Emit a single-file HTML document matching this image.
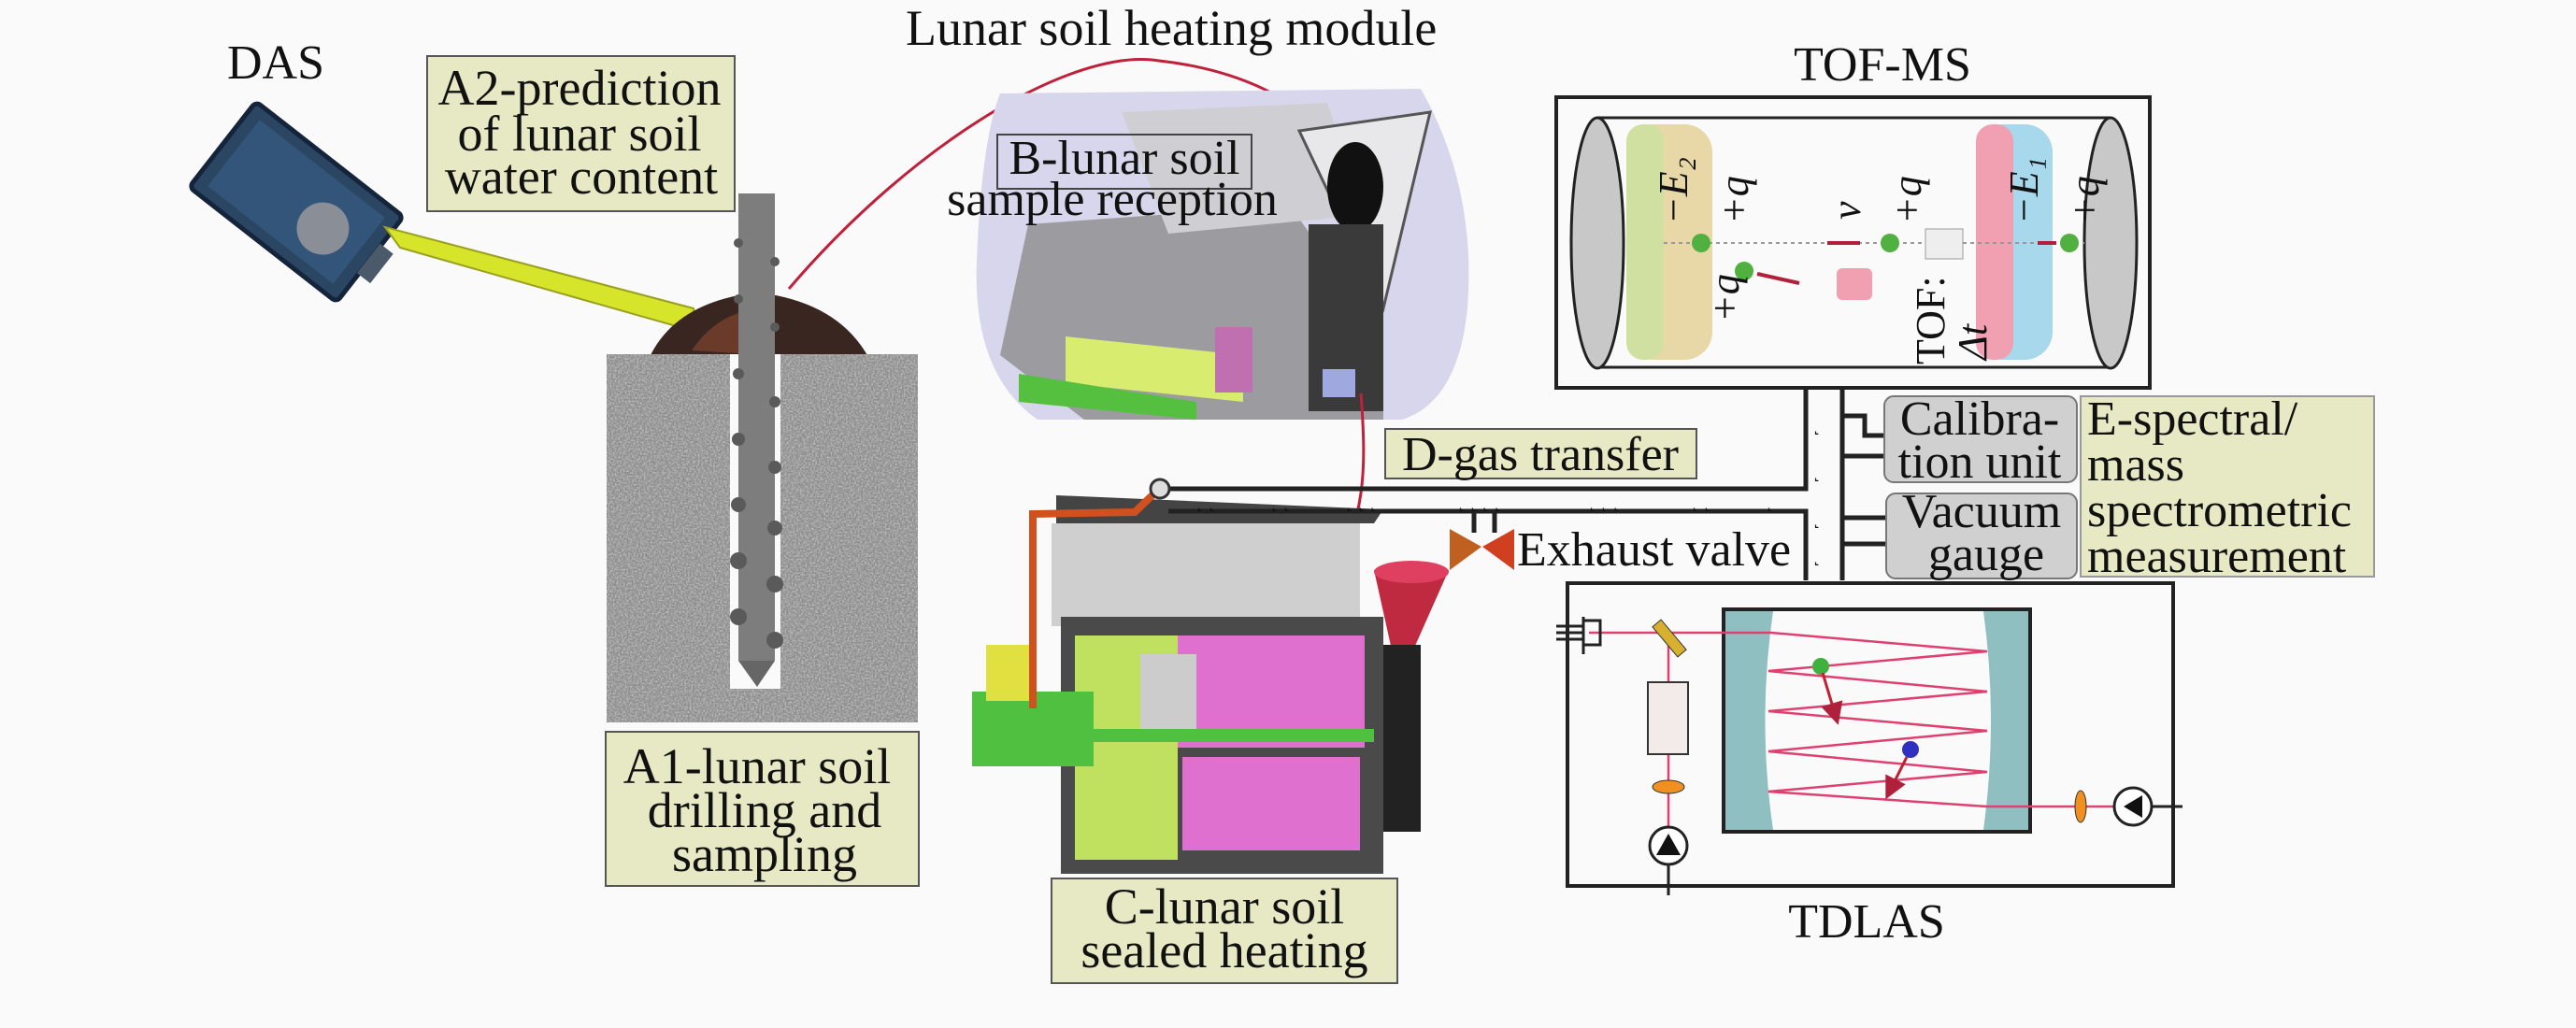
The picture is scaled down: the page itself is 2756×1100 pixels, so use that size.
<!DOCTYPE html>
<html><head><meta charset="utf-8"><style>
html,body{margin:0;padding:0;background:#fafafa;}
svg{display:block;}
svg text{font-family:"Liberation Serif","Times New Roman",serif;fill:#111;}
</style></head><body>
<svg width="2756" height="1100" viewBox="0 0 2756 1100" xmlns="http://www.w3.org/2000/svg" font-family="Liberation Serif, Times New Roman, serif">
<defs>
<filter id="noise" x="0" y="0" width="100%" height="100%">
<feTurbulence type="fractalNoise" baseFrequency="0.55" numOctaves="2" seed="3"/>
<feColorMatrix type="matrix" values="0 0 0 0 0.5  0 0 0 0 0.5  0 0 0 0 0.5  2.5 0 0 0 -0.9"/>
</filter>
<marker id="ar" markerWidth="8" markerHeight="8" refX="6" refY="4" orient="auto"><path d="M0,0 L8,4 L0,8 z" fill="#b0203a"/></marker>
</defs>
<rect width="2756" height="1100" fill="#fafafa"/>

<!-- DAS -->
<text x="295" y="84" font-size="52" text-anchor="middle">DAS</text>
<g transform="translate(317,216) rotate(38)">
<rect x="-100" y="-58" width="200" height="116" rx="6" fill="#2b4663" stroke="#14243a" stroke-width="5"/>
<rect x="-85" y="-45" width="170" height="90" fill="#34557a"/>
<circle cx="40" cy="5" r="28" fill="#8a8e96"/>
<rect x="98" y="-20" width="18" height="40" fill="#4a5a6a"/>
</g>
<polygon points="412,243 428,265 748,356 742,330" fill="#d6e42a" stroke="#9aa020" stroke-width="2"/>

<!-- A2 box -->
<rect x="457" y="60" width="329" height="166" fill="#e6e9c3" stroke="#555" stroke-width="2"/>
<text font-size="54" text-anchor="middle"><tspan x="620" y="112">A2-prediction</tspan><tspan x="620" y="161">of lunar soil</tspan><tspan x="622" y="207">water  content</tspan></text>

<!-- soil -->
<path d="M695,382 Q720,330 790,316 L830,316 Q900,330 929,382 Z" fill="#3a2620"/>
<path d="M740,375 Q760,345 790,335 L790,378 Z" fill="#6a3a2a"/>
<rect x="649" y="379" width="333" height="394" fill="#8c8c8c"/>
<rect x="649" y="379" width="333" height="394" filter="url(#noise)"/>
<rect x="781" y="379" width="54" height="358" fill="#fafafa"/>
<rect x="790" y="207" width="39" height="500" fill="#7d7d7d"/>
<g fill="#5a5a5a">
<circle cx="790" cy="260" r="5"/><circle cx="829" cy="280" r="5"/><circle cx="790" cy="320" r="5"/><circle cx="829" cy="350" r="5"/>
<circle cx="790" cy="400" r="6"/><circle cx="829" cy="430" r="6"/><circle cx="790" cy="470" r="7"/><circle cx="829" cy="500" r="7"/>
<circle cx="790" cy="540" r="8"/><circle cx="829" cy="565" r="8"/><circle cx="790" cy="600" r="9"/><circle cx="829" cy="625" r="9"/><circle cx="790" cy="660" r="9"/><circle cx="829" cy="685" r="9"/>
</g>
<polygon points="790,707 829,707 810,735" fill="#666"/>

<!-- A1 box -->
<rect x="648" y="783" width="335" height="165" fill="#e6e9c3" stroke="#555" stroke-width="2"/>
<text font-size="54" text-anchor="middle"><tspan x="810" y="838">A1-lunar soil</tspan><tspan x="818" y="885">drilling and</tspan><tspan x="818" y="932">sampling</tspan></text>

<!-- Lunar soil heating module -->
<text x="969" y="48" font-size="54">Lunar soil heating module</text>
<path d="M844,309 C980,150 1150,50 1240,65 C1330,75 1400,110 1446,172" fill="none" stroke="#c0203a" stroke-width="3" marker-end="url(#ar)"/>

<!-- B module -->
<path d="M1070,100 L1520,95 Q1580,200 1570,330 Q1560,430 1500,449 L1110,449 Q1040,400 1045,280 Q1050,150 1070,100 Z" fill="#d8d6ec"/>
<polygon points="1100,240 1380,220 1480,360 1480,449 1160,449 1070,380" fill="#9c9ca0"/>
<polygon points="1200,120 1420,110 1460,230 1250,250" fill="#cfcfd3"/>
<polygon points="1390,140 1530,120 1480,330" fill="#e8e8ea" stroke="#555" stroke-width="3"/>
<ellipse cx="1450" cy="200" rx="30" ry="48" fill="#111"/>
<polygon points="1140,360 1330,380 1330,430 1140,410" fill="#d8ec70"/>
<polygon points="1090,400 1280,430 1280,449 1090,430" fill="#55c040"/>
<rect x="1300" y="350" width="40" height="70" fill="#c070b0"/>
<rect x="1400" y="240" width="80" height="200" fill="#3a3a3a"/>
<rect x="1415" y="395" width="35" height="30" fill="#a0a8e0"/>
<rect x="1067" y="144" width="272" height="58" fill="none" stroke="#444" stroke-width="2"/>
<text font-size="52" text-anchor="middle"><tspan x="1203" y="186">B-lunar soil</tspan><tspan x="1190" y="230">sample reception</tspan></text>

<!-- red line from B to C -->
<path d="M1456,421 C1462,500 1462,560 1420,620 C1360,690 1290,700 1245,708" fill="none" stroke="#c0203a" stroke-width="3"/>

<!-- C module -->
<polygon points="1130,530 1480,545 1470,560 1130,560" fill="#444"/>
<rect x="1125" y="560" width="330" height="110" fill="#cfcfcf"/>
<rect x="1135" y="660" width="345" height="275" fill="#4a4a4a"/>
<rect x="1150" y="680" width="110" height="240" fill="#c0e060"/>
<rect x="1260" y="680" width="200" height="120" fill="#e070d0"/>
<rect x="1265" y="810" width="190" height="100" fill="#e070d0"/>
<rect x="1220" y="700" width="60" height="80" fill="#cccccc"/>
<rect x="1170" y="780" width="300" height="14" fill="#50c040"/>
<rect x="1040" y="740" width="130" height="80" fill="#50c040"/>
<rect x="1055" y="690" width="50" height="60" fill="#e0e040"/>
<polygon points="1470,610 1550,610 1510,700 1490,700" fill="#c02a40"/>
<ellipse cx="1510" cy="612" rx="40" ry="12" fill="#e04060"/>
<rect x="1480" y="690" width="40" height="200" fill="#222"/>
<path d="M1105,758 L1105,550 L1214,548 L1238,525" fill="none" stroke="#d05020" stroke-width="8"/>
<rect x="1125" y="940" width="370" height="112" fill="#e6e9c3" stroke="#555" stroke-width="2"/>
<text font-size="54" text-anchor="middle"><tspan x="1310" y="988">C-lunar soil</tspan><tspan x="1310" y="1035">sealed heating</tspan></text>

<!-- D gas pipe -->
<g fill="none" stroke="#222" stroke-width="5">
<path d="M1241,523 L1932,523 L1932,417"/>
<path d="M1250,547 L1932,547 L1932,621"/>
<path d="M1971,417 L1971,621"/>
<path d="M1577,547 L1577,570 M1599,547 L1599,570"/>
<path d="M1971,445 L1995,445 L1995,466 L2016,466"/>
<path d="M1995,488 L2016,488 M1971,488 L1995,488"/>
<path d="M1971,554 L2018,554 M1971,582 L2018,582"/>
</g>
<circle cx="1241" cy="523" r="10" fill="#ddd" stroke="#333" stroke-width="3"/>
<g fill="#333" font-size="22">
<text x="1280" y="542">˻ ˻</text><text x="1360" y="542">˻ ˻</text><text x="1440" y="542">˻ ˻ ˻</text><text x="1560" y="542">˻ ˻ ˻ ˻</text><text x="1700" y="542">˻ ˻ ˻</text><text x="1810" y="542">˻ ˻</text><text x="1890" y="542">˻</text>
<text x="1940" y="460">˻</text><text x="1940" y="510">˻</text><text x="1940" y="560">˻</text><text x="1940" y="600">˻</text>
</g>
<polygon points="1551,566 1585,585 1551,610" fill="#c06020"/>
<polygon points="1620,566 1586,585 1620,610" fill="#d04020"/>
<text x="1623" y="605" font-size="52">Exhaust valve</text>
<rect x="1482" y="459" width="333" height="53" fill="#e6e9c3" stroke="#555" stroke-width="2"/>
<text x="1648" y="503" font-size="52" text-anchor="middle">D-gas transfer</text>

<!-- TOF-MS -->
<text x="2014" y="86" font-size="52" text-anchor="middle">TOF-MS</text>
<rect x="1665" y="104" width="635" height="311" fill="#fafafa" stroke="#222" stroke-width="4"/>
<path d="M1709,126 L2258,126 M1709,393 L2258,393" stroke="#222" stroke-width="3"/>
<ellipse cx="1709" cy="260" rx="28" ry="134" fill="#c8c8c8" stroke="#222" stroke-width="3"/>
<ellipse cx="2258" cy="260" rx="28" ry="134" fill="#c8c8c8" stroke="#222" stroke-width="3"/>
<g><rect x="1740" y="133" width="92" height="252" rx="30" fill="#e8d8a8"/><rect x="1740" y="133" width="40" height="252" rx="18" fill="#cfe0a0"/></g>
<g><rect x="2114" y="133" width="82" height="252" rx="30" fill="#a8d8ec"/><rect x="2114" y="133" width="40" height="252" rx="18" fill="#f0a0b0"/></g>
<line x1="1780" y1="260" x2="2230" y2="260" stroke="#999" stroke-dasharray="4,4" stroke-width="2"/>
<rect x="2060" y="245" width="40" height="32" fill="#eee" stroke="#999"/>
<rect x="1965" y="287" width="38" height="34" rx="6" fill="#f0a0b0"/>
<g fill="#50b040"><circle cx="1820" cy="260" r="10"/><circle cx="2022" cy="260" r="10"/><circle cx="2214" cy="260" r="10"/><circle cx="1866" cy="290" r="10"/></g>
<g stroke="#b0203a" stroke-width="4"><line x1="1990" y1="260" x2="1955" y2="260"/><line x1="2200" y1="260" x2="2180" y2="260"/><line x1="1880" y1="293" x2="1925" y2="303"/></g>
<g font-size="44" font-style="italic">
<text transform="translate(1870,240) rotate(-90)">+q</text>
<text transform="translate(2055,240) rotate(-90)">+q</text>
<text transform="translate(2245,240) rotate(-90)">+q</text>
<text transform="translate(1860,345) rotate(-90)">+q</text>
<text transform="translate(1990,235) rotate(-90)" fill="#c02040">v</text>
<text transform="translate(1805,240) rotate(-90)" fill="#2030a0">−E₂</text>
<text transform="translate(2180,240) rotate(-90)" fill="#d02040">−E₁</text>
<text transform="translate(2080,390) rotate(-90)" font-style="normal">TOF:</text>
<text transform="translate(2125,385) rotate(-90)">Δt</text>
</g>

<!-- Calibration / Vacuum / E-spectral -->
<rect x="2016" y="424" width="206" height="92" rx="10" fill="#d0d0d0" stroke="#777" stroke-width="2"/>
<text font-size="52" text-anchor="middle"><tspan x="2118" y="465">Calibra-</tspan><tspan x="2118" y="511">tion unit</tspan></text>
<rect x="2018" y="528" width="204" height="91" rx="10" fill="#d0d0d0" stroke="#777" stroke-width="2"/>
<text font-size="52" text-anchor="middle"><tspan x="2120" y="564">Vacuum</tspan><tspan x="2125" y="610">gauge</tspan></text>
<rect x="2226" y="424" width="314" height="193" fill="#e6e9c3" stroke="#999" stroke-width="2"/>
<text font-size="52"><tspan x="2233" y="465">E-spectral/</tspan><tspan x="2233" y="514">mass</tspan><tspan x="2233" y="563">spectrometric</tspan><tspan x="2233" y="612">measurement</tspan></text>

<!-- TDLAS -->
<rect x="1677" y="624" width="648" height="324" fill="#fafafa" stroke="#222" stroke-width="4"/>
<text x="1997" y="1003" font-size="52" text-anchor="middle">TDLAS</text>
<rect x="1844" y="652" width="328" height="238" fill="#fafafa" stroke="#222" stroke-width="4"/>
<path d="M1846,654 L1897,654 Q1880,771 1897,888 L1846,888 Z" fill="#8fbfc0"/>
<path d="M2170,654 L2122,654 Q2138,771 2122,888 L2170,888 Z" fill="#8fbfc0"/>
<g stroke="#e04070" stroke-width="2.5" fill="none">
<path d="M1700,677 L1895,677 L2126,697 L1892,718 L2126,740 L1892,761 L2126,782 L1892,804 L2126,826 L1892,847 L2126,863 L2290,863"/>
<path d="M1785,677 L1785,905"/>
</g>
<g stroke="#222" stroke-width="3" fill="none">
<path d="M1665,670 L1694,670 M1665,677 L1694,677 M1665,684 L1694,684 M1694,660 L1694,700 M1694,664 L1712,664 L1712,690 L1694,690"/>
</g>
<rect x="1780" y="662" width="12" height="42" fill="#d8b030" stroke="#333" transform="rotate(-40 1786 683)"/>
<rect x="1763" y="730" width="43" height="77" fill="#f3eaea" stroke="#333" stroke-width="2"/>
<ellipse cx="1785" cy="842" rx="17" ry="7" fill="#f09020" stroke="#333"/>
<ellipse cx="2226" cy="863" rx="6" ry="17" fill="#f09020" stroke="#333"/>
<circle cx="1785" cy="905" r="20" fill="#fff" stroke="#222" stroke-width="3"/>
<polygon points="1772,915 1798,915 1785,892" fill="#111"/>
<line x1="1785" y1="925" x2="1785" y2="958" stroke="#222" stroke-width="3"/>
<circle cx="2282" cy="863" r="20" fill="#fff" stroke="#222" stroke-width="3"/>
<polygon points="2272,863 2292,851 2292,875" fill="#111"/>
<line x1="2302" y1="863" x2="2335" y2="863" stroke="#222" stroke-width="3"/>
<circle cx="1948" cy="713" r="9" fill="#40b040"/>
<circle cx="2044" cy="802" r="9" fill="#3030c0"/>
<path d="M1950,720 L1965,770" stroke="#c02030" stroke-width="3" marker-end="url(#ar)"/>
<path d="M2040,810 L2020,850" stroke="#c02030" stroke-width="3" marker-end="url(#ar)"/>
</svg>
</body></html>
